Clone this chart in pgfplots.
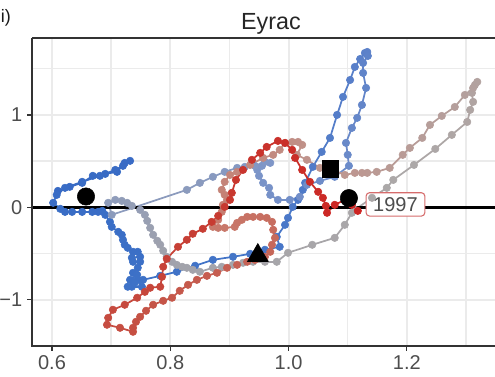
\documentclass[border=0pt]{standalone}
\usepackage{fontspec}
\setmainfont{Liberation Sans}
\usepackage{pgfplots}
\usepackage{pgfplotstable}
\pgfplotsset{compat=1.18}

\definecolor{axisgrey}{RGB}{51,51,51}
\definecolor{ticktext}{RGB}{77,77,77}
\definecolor{gridgrey}{RGB}{235,235,235}
\definecolor{labelred}{RGB}{214,108,108}

% Trajectory of the Eyrac site, in time order (blue = early, red = late)
\pgfplotstableread{
x y
0.610 0.178
0.630 0.222
0.651 0.265
0.669 0.341
0.690 0.362
0.710 0.384
0.723 0.481
0.732 0.503
0.720 0.449
0.707 0.405
0.681 0.341
0.651 0.276
0.622 0.211
0.608 0.135
0.602 0.049
0.614 -0.016
0.622 -0.049
0.634 -0.049
0.651 -0.049
0.668 -0.049
0.678 -0.049
0.685 -0.038
0.690 -0.081
0.698 -0.157
0.701 -0.211
0.712 -0.265
0.718 -0.297
0.720 -0.351
0.723 -0.405
0.728 -0.438
0.737 -0.481
0.745 -0.481
0.749 -0.535
0.735 -0.546
0.737 -0.589
0.749 -0.589
0.745 -0.654
0.737 -0.708
0.744 -0.730
0.732 -0.784
0.737 -0.805
0.745 -0.784
0.752 -0.859
0.735 -0.859
0.728 -0.859
0.740 -0.816
0.754 -0.784
0.783 -0.741
0.811 -0.697
0.842 -0.632
0.872 -0.568
0.906 -0.535
0.935 -0.503
0.960 -0.459
0.985 -0.427
0.980 -0.319
0.994 -0.189
0.999 -0.114
1.007 0.005
1.016 0.081
1.024 0.189
1.028 0.265
1.041 0.438
1.056 0.600
1.070 0.751
1.082 1.000
1.092 1.195
1.104 1.378
1.112 1.519
1.121 1.605
1.129 1.670
1.133 1.681
1.134 1.638
1.126 1.562
1.126 1.454
1.131 1.292
1.124 1.108
1.116 0.968
1.107 0.859
1.097 0.697
1.100 0.568
1.102 0.449
1.078 0.330
1.053 0.286
1.031 0.243
1.019 0.114
1.002 0.081
0.982 0.081
0.969 0.135
0.967 0.211
0.957 0.265
0.950 0.341
0.947 0.405
0.955 0.449
0.969 0.481
0.960 0.492
0.943 0.449
0.926 0.438
0.913 0.427
0.892 0.384
0.872 0.330
0.850 0.265
0.828 0.189
0.701 -0.081
0.695 0.049
0.707 0.081
0.718 0.070
0.727 0.049
0.735 0.016
0.749 -0.027
0.757 -0.081
0.761 -0.146
0.766 -0.222
0.771 -0.297
0.778 -0.362
0.783 -0.405
0.788 -0.470
0.794 -0.535
0.803 -0.589
0.811 -0.622
0.820 -0.643
0.828 -0.654
0.838 -0.676
0.850 -0.697
0.872 -0.654
0.887 -0.643
0.906 -0.622
0.923 -0.600
0.940 -0.589
0.960 -0.589
0.980 -0.589
0.999 -0.492
1.040 -0.405
1.078 -0.330
1.095 -0.189
1.107 -0.059
1.112 -0.027
1.141 0.103
1.166 0.211
1.177 0.297
1.212 0.459
1.248 0.632
1.276 0.784
1.302 0.924
1.307 1.054
1.312 1.141
1.310 1.238
1.315 1.324
1.319 1.357
1.312 1.292
1.298 1.216
1.281 1.086
1.259 0.989
1.239 0.892
1.226 0.751
1.205 0.643
1.193 0.568
1.171 0.427
1.149 0.384
1.133 0.373
1.124 0.373
1.112 0.373
1.095 0.351
1.075 0.405
1.053 0.427
1.031 0.514
1.014 0.568
1.023 0.676
1.016 0.708
1.006 0.708
0.994 0.697
0.985 0.622
0.974 0.568
0.957 0.535
0.935 0.459
0.913 0.384
0.901 0.351
0.892 0.276
0.887 0.189
0.892 0.135
0.896 0.081
0.889 0.027
0.887 -0.049
0.881 -0.135
0.872 -0.211
0.881 -0.222
0.892 -0.222
0.909 -0.211
0.913 -0.168
0.921 -0.135
0.930 -0.103
0.940 -0.103
0.952 -0.103
0.963 -0.114
0.972 -0.157
0.974 -0.243
0.977 -0.330
0.972 -0.405
0.969 -0.481
0.960 -0.535
0.943 -0.568
0.930 -0.589
0.913 -0.622
0.896 -0.654
0.879 -0.708
0.862 -0.741
0.845 -0.784
0.830 -0.838
0.816 -0.903
0.803 -0.978
0.788 -1.011
0.771 -1.054
0.759 -1.119
0.749 -1.184
0.742 -1.238
0.737 -1.303
0.737 -1.346
0.715 -1.303
0.693 -1.270
0.695 -1.195
0.703 -1.108
0.723 -1.054
0.744 -0.978
0.757 -0.914
0.766 -0.870
0.783 -0.859
0.786 -0.751
0.788 -0.643
0.794 -0.557
0.813 -0.427
0.828 -0.351
0.838 -0.286
0.855 -0.232
0.870 -0.157
0.881 -0.092
0.892 0.005
0.901 0.081
0.904 0.157
0.911 0.297
0.923 0.405
0.938 0.514
0.952 0.589
0.963 0.654
0.982 0.719
0.994 0.697
1.006 0.622
1.011 0.535
1.023 0.405
1.036 0.276
1.050 0.168
1.058 0.103
1.063 0.016
1.065 -0.059
1.078 0.027
1.095 0.081
1.107 0.027
1.117 -0.038
}\eyrac

\begin{document}
\begin{tikzpicture}
\begin{axis}[
  name=ax,
  at={(24pt,23.25pt)}, anchor=south west,
  scale only axis, width=347.25pt, height=231pt,
  xmin=0.5662, xmax=1.349, ymin=-1.50, ymax=1.832,
  xtick={0.6,0.8,1.0,1.2}, xticklabels={0.6,0.8,1.0,1.2},
  ytick={-1,0,1}, yticklabels={−1,0,1},
  minor xtick={0.7,0.9,1.1,1.3}, minor ytick={-0.5,0.5,1.5},
  grid=both,
  major grid style={gridgrey, line width=1.5pt},
  minor grid style={gridgrey, line width=1.0pt},
  tick pos=left, tick align=outside,
  major tick length=3.75pt, minor tick length=0pt,
  tick style={axisgrey, line width=0.9pt},
  axis line style={draw=none},
  ticklabel style={font=\fontsize{15}{17}\selectfont, text=ticktext},
  point meta min=0, point meta max=256,
  colormap={traj}{
    rgb255=(56,106,196) rgb255=(58,110,198) rgb255=(62,114,199)
    rgb255=(90,128,201) rgb255=(126,150,200) rgb255=(160,162,172)
    rgb255=(172,168,168) rgb255=(190,150,143) rgb255=(200,120,106)
    rgb255=(197,86,73) rgb255=(199,60,50) rgb255=(205,36,34)},
]
% path, coloured along time
\addplot[mesh, point meta=\coordindex, line width=1.3pt, forget plot]
  table[x=x, y=y] {\eyrac};
% observations
\addplot[scatter, only marks, mark=*, mark size=2.8pt, point meta=\coordindex,
  scatter/use mapped color={draw=mapped color, fill=mapped color}, forget plot]
  table[x=x, y=y] {\eyrac};
% reference line
\addplot[black, line width=2pt, forget plot] coordinates {(0.5,0) (1.4,0)};
% period markers
\addplot[only marks, mark=*, mark size=6.5pt, black] coordinates {(0.6575,0.117) (1.102,0.100)};
\addplot[only marks, mark=square*, mark size=6.3pt, black] coordinates {(1.0705,0.413)};
\addplot[only marks, mark=triangle*, mark size=9pt, black] coordinates {(0.948,-0.521)};
\node[draw=labelred, fill=white, rounded corners=2.5pt, line width=0.8pt,
  text=ticktext, font=\fontsize{15}{17}\selectfont,
  minimum width=44pt, minimum height=17.5pt, inner sep=0pt]
  at (axis cs:1.1807,0.032) {1997};
\end{axis}
\draw[axisgrey, line width=0.9pt] (ax.north west) -- (ax.south west) -- (ax.south east);
\draw[axisgrey, line width=0.9pt] (ax.north west) -- (ax.north east);
\node[anchor=base, font=\fontsize{17.5}{20}\selectfont, text=black!85] at (203.25pt,260.6pt) {Eyrac};
\node[anchor=base west, inner sep=0pt, font=\fontsize{13.5}{15}\selectfont, text=black!90] at (0.5pt,265.9pt) {i)};
\pgfresetboundingbox
\path[use as bounding box] (0,0) rectangle (371.25pt,282.75pt);
\end{tikzpicture}
\end{document}
